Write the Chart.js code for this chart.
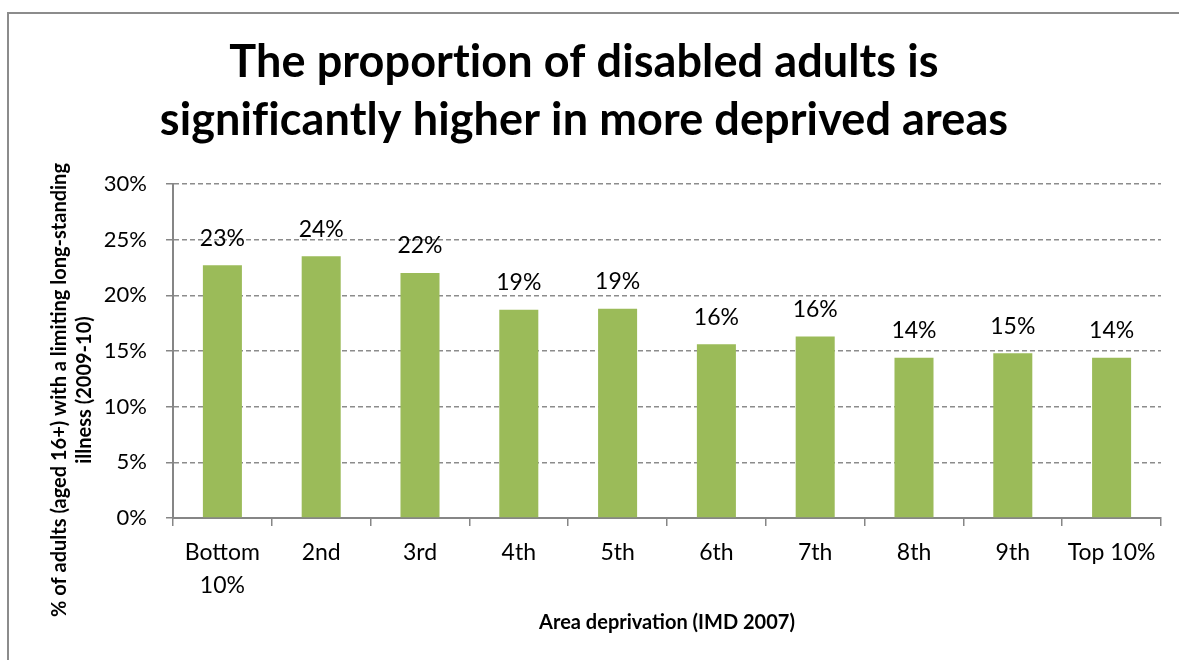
<!DOCTYPE html>
<html>
<head>
<meta charset="utf-8">
<script src="https://cdn.jsdelivr.net/npm/chart.js@4/dist/chart.umd.min.js"></script>
<style>
  html, body { margin: 0; padding: 0; background: #fff; }
  canvas { display: block; }
</style>
</head>
<body>
<canvas id="chart" width="1179" height="660"></canvas>
<script>
// ── DATA ──────────────────────────────────────────────────────────────────────
const deciles  = [['Bottom', '10%'], '2nd', '3rd', '4th', '5th', '6th', '7th', '8th', '9th', 'Top 10%'];
const disabled = [22.7, 23.5, 22.0, 18.7, 18.8, 15.6, 16.3, 14.4, 14.8, 14.4];   // % of adults
const yTicks   = [0, 5, 10, 15, 20, 25, 30];

const titleLines = ['The proportion of disabled adults is', 'significantly higher in more deprived areas'];
const yTitle     = ['% of adults (aged 16+) with a limiting long-standing', 'illness (2009-10)'];
const xTitle     = 'Area deprivation (IMD 2007)';

const FONT  = "Lato, 'Open Sans', sans-serif";
const GREEN = '#9bbb59';
const GREY  = '#868686';

// ── DECORATION: frame, headings, value labels ────────────────────────────────
const decor = {
  id: 'decor',
  beforeDraw(chart) {
    const { ctx, width, height } = chart;
    ctx.save();
    ctx.fillStyle = '#fff';
    ctx.fillRect(0, 0, width, height);
    ctx.strokeStyle = '#8c8c8c';
    ctx.lineWidth = 2;
    ctx.strokeRect(8, 13, width + 40, height + 40);
    ctx.restore();
  },
  afterDraw(chart) {
    const { ctx, chartArea: { left, right } } = chart;
    ctx.save();
    ctx.fillStyle = '#000';

    // main heading (tiny letter spacing keeps "ti"/"fi" from ligating)
    ctx.font = `bold 45px ${FONT}`;
    ctx.letterSpacing = '0.1px';
    ctx.textAlign = 'center';
    ctx.textBaseline = 'alphabetic';
    titleLines.forEach((t, i) => ctx.fillText(t, 584, 77 + i * 58));
    ctx.letterSpacing = '0px';

    // x axis title
    ctx.font = `bold 20px ${FONT}`;
    ctx.textBaseline = 'middle';
    ctx.fillText(xTitle, (left + right) / 2, 623);

    // y axis title, rotated
    ctx.save();
    ctx.translate(0, 390);
    ctx.rotate(-Math.PI / 2);
    ctx.font = `bold 20px ${FONT}`;
    yTitle.forEach((t, i) => ctx.fillText(t, 0, 60 + i * 25));
    ctx.restore();

    // value labels above each bar
    ctx.font = `23px ${FONT}`;
    const meta = chart.getDatasetMeta(0);
    meta.data.forEach((bar, i) => {
      ctx.fillText(Math.round(disabled[i]) + '%', bar.x, bar.y - 27);
    });
    ctx.restore();
  }
};

// ── CHART ─────────────────────────────────────────────────────────────────────
new Chart(document.getElementById('chart'), {
  type: 'bar',
  data: {
    labels: deciles,
    datasets: [{
      data: disabled,
      backgroundColor: GREEN,
      borderWidth: 0,
      categoryPercentage: 1,
      barPercentage: 0.395
    }]
  },
  options: {
    responsive: false,
    animation: false,
    devicePixelRatio: 1,
    layout: { padding: { top: 184, right: 18, bottom: 0, left: 0 } },
    plugins: { legend: { display: false }, tooltip: { enabled: false } },
    scales: {
      x: {
        afterFit: s => { s.height = 142; },
        grid: {
          offset: true,
          drawOnChartArea: false,
          color: GREY,
          lineWidth: 1.5,
          tickLength: 8
        },
        border: { color: GREY, width: 2 },
        ticks: {
          color: '#000',
          padding: 10,
          maxRotation: 0,
          autoSkip: false,
          font: { family: FONT, size: 23, lineHeight: 1.45 }
        }
      },
      y: {
        min: 0,
        max: 30,
        afterFit: s => { s.width = 173; },
        afterBuildTicks: s => { s.ticks = yTicks.map(v => ({ value: v })); },
        grid: {
          color: '#8c8c8c',
          lineWidth: 1.5,
          tickLength: 7,
          tickColor: GREY,
          tickBorderDash: []
        },
        border: { color: GREY, width: 2, dash: [5, 3] },
        ticks: {
          color: '#000',
          padding: 19,
          callback: v => v + '%',
          font: { family: FONT, size: 22 }
        }
      }
    }
  },
  plugins: [decor]
});
</script>
</body>
</html>
